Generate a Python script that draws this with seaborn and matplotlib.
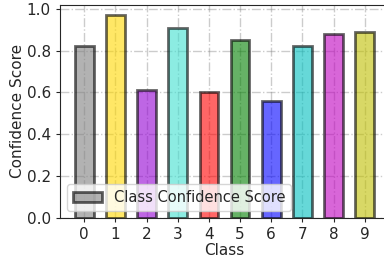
import seaborn as sns
import matplotlib.pyplot as plt
from matplotlib.patches import Patch

# class confidence scores
classes = ["0", "1", "2", "3", "4", "5", "6", "7", "8", "9"]
scores = [0.82, 0.97, 0.61, 0.91, 0.60, 0.85, 0.56, 0.82, 0.88, 0.89]
colors = ["gray", "gold", "darkviolet", "turquoise", "red",
          "green", "blue", "c", "m", "y"]

sns.set_style("ticks")
plt.rcParams["font.family"] = ["DejaVu Sans"]

fig = plt.figure(figsize=(3.84, 2.6), dpi=100)
ax = fig.add_axes([0.156, 0.162, 0.857, 0.819])

sns.barplot(x=classes, y=scores, hue=classes, palette=colors, legend=False,
            saturation=1, width=0.6, alpha=0.6, edgecolor="black",
            linewidth=2, ax=ax)

# back to plain matplotlib margins on x
ax.autoscale(enable=True, axis="x")

ax.grid(True, linestyle="-.", color="gray", alpha=0.4, linewidth=1)
ax.set_axisbelow(True)
ax.set_xlabel("Class", fontsize=11, labelpad=1)
ax.set_ylabel("Confidence Score", fontsize=11, labelpad=1)
ax.tick_params(labelsize=11, length=3)

handle = Patch(facecolor="gray", edgecolor="black", alpha=0.6, linewidth=2)
ax.legend([handle], ["Class Confidence Score"], loc="lower left", fontsize=10.5)

fig.savefig("out.png", dpi=100)
